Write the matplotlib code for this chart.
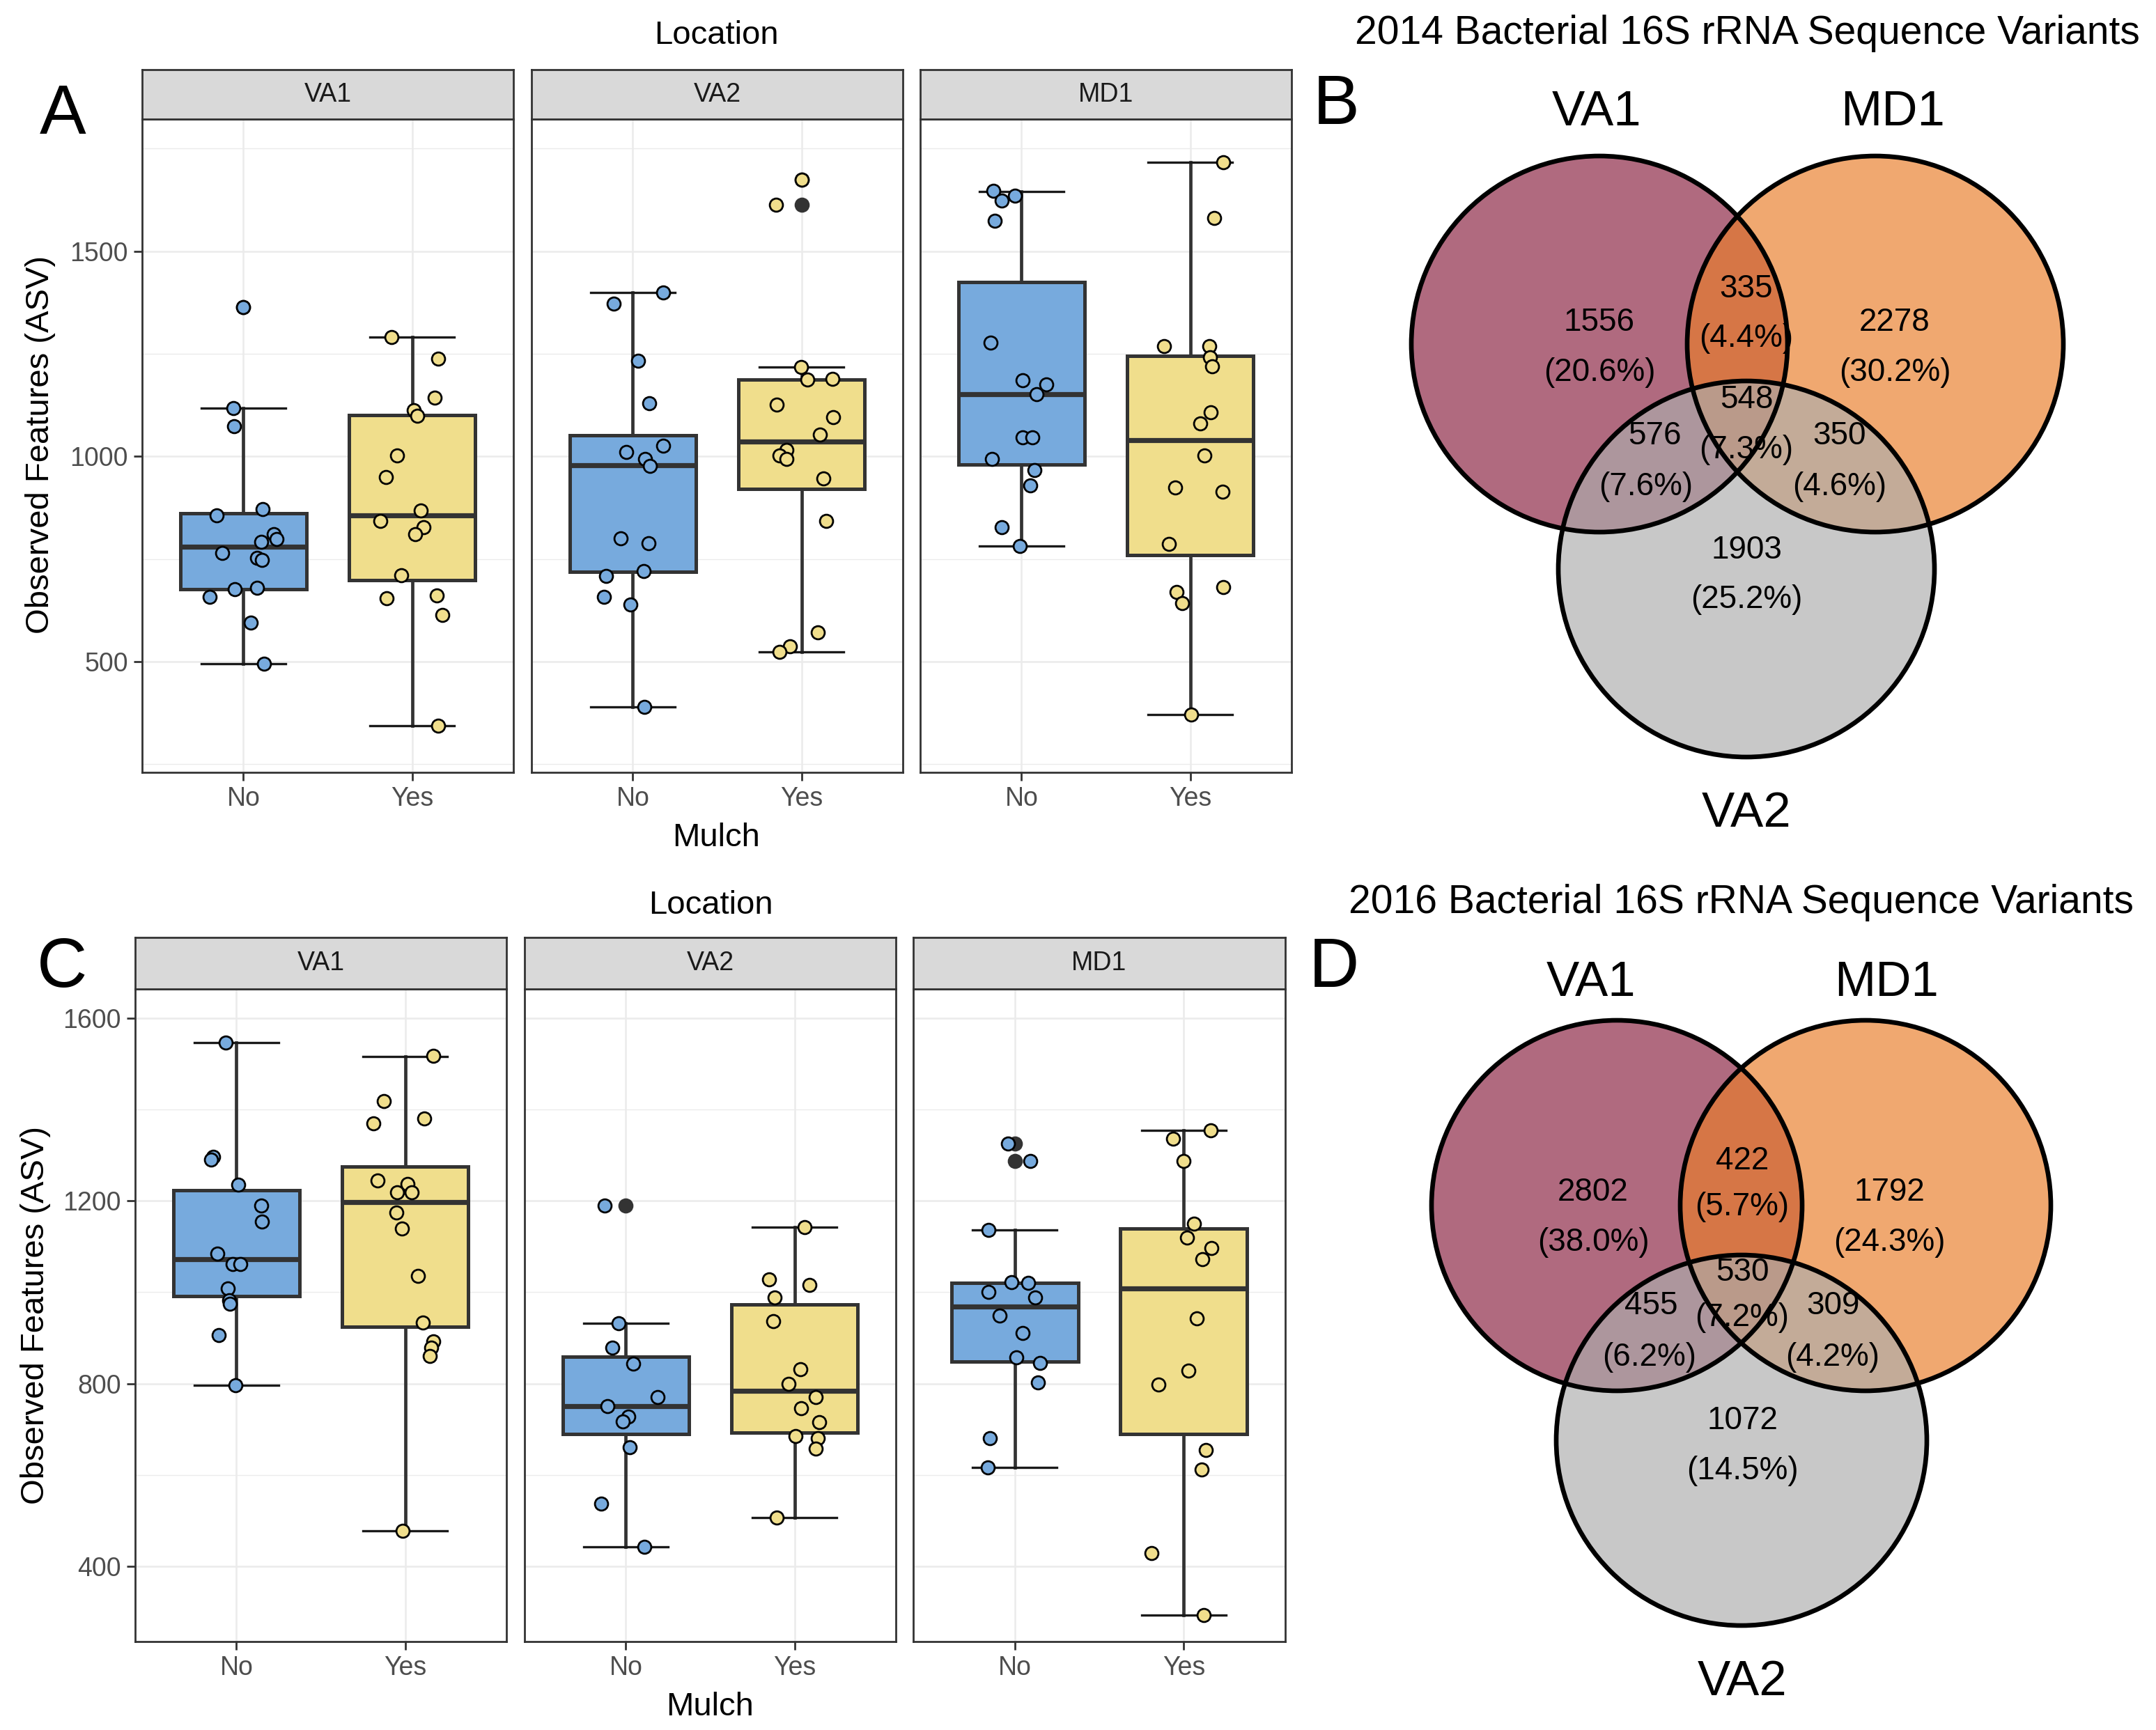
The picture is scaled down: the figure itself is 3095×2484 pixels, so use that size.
import matplotlib
matplotlib.use("Agg")
import matplotlib.pyplot as plt
from matplotlib.patches import Circle

plt.rcParams['font.family'] = ['Liberation Sans', 'DejaVu Sans']

W, H = 3095, 2484
DPI = 200

locations = ["VA1", "VA2", "MD1"]
mulch = ["No", "Yes"]
fill_cols = ["#77AADD", "#F0DE8C"]

# ---- panel A: 2014 observed features, jittered points (dx = jitter offset)
a_va1_no = [1363, 1117, 1074, 857, 871, 810, 798, 792, 765, 752, 748, 676, 679, 658, 595, 494]
a_va1_no_dx = [0.0, -0.06, -0.056, -0.16, 0.116, 0.18, 0.196, 0.104, -0.124, 0.08, 0.11, -0.05, 0.08, -0.2, 0.044, 0.124]
a_va1_yes = [1290, 1238, 1143, 1113, 1099, 1002, 950, 869, 843, 827, 810, 711, 655, 661, 613, 343]
a_va1_yes_dx = [-0.124, 0.156, 0.134, 0.01, 0.03, -0.09, -0.154, 0.05, -0.19, 0.066, 0.02, -0.064, -0.15, 0.144, 0.18, 0.156]
a_va2_no = [1400, 1373, 1233, 1129, 1026, 1011, 993, 976, 801, 789, 720, 708, 658, 639, 389]
a_va2_no_dx = [0.182, -0.114, 0.032, 0.098, 0.18, -0.038, 0.073, 0.103, -0.073, 0.094, 0.066, -0.158, -0.17, -0.015, 0.069]
a_va2_yes = [1675, 1613, 1218, 1187, 1189, 1126, 1095, 1054, 1015, 1002, 994, 946, 843, 571, 538, 524]
a_va2_yes_dx = [0.0, -0.152, -0.003, 0.034, 0.183, -0.147, 0.186, 0.107, -0.091, -0.129, -0.088, 0.128, 0.144, 0.095, -0.069, -0.132]
a_md1_no = [1648, 1635, 1623, 1574, 1278, 1186, 1176, 1151, 1046, 1046, 994, 967, 929, 827, 782]
a_md1_no_dx = [-0.167, -0.038, -0.119, -0.16, -0.183, 0.005, 0.146, 0.091, 0.008, 0.064, -0.175, 0.076, 0.053, -0.119, -0.008]
a_md1_yes = [1717, 1581, 1268, 1268, 1242, 1220, 1107, 1081, 1002, 924, 914, 786, 670, 681, 643, 371]
a_md1_yes_dx = [0.195, 0.142, -0.155, 0.112, 0.119, 0.129, 0.122, 0.061, 0.084, -0.091, 0.19, -0.128, -0.082, 0.195, -0.049, 0.005]

# box stats, order: VA1 No, VA1 Yes, VA2 No, VA2 Yes, MD1 No, MD1 Yes
a_q1 = [676, 699, 718, 920, 981, 760]
a_med = [780, 857, 979, 1036, 1152, 1040]
a_q3 = [861, 1101, 1051, 1188, 1425, 1245]
a_lo = [494, 343, 389, 524, 781, 371]
a_hi = [1117, 1290, 1399, 1218, 1646, 1717]
a_out = [[1363], [], [], [1675, 1613], [], []]

# ---- panel C: 2016
c_va1_no = [1547, 1296, 1290, 1235, 1189, 1155, 1084, 1061, 1061, 1008, 983, 974, 906, 796]
c_va1_no_dx = [-0.064, -0.139, -0.149, 0.01, 0.149, 0.153, -0.114, -0.024, 0.024, -0.05, -0.044, -0.04, -0.104, -0.004]
c_va1_yes = [1517, 1419, 1370, 1381, 1244, 1237, 1219, 1219, 1175, 1139, 1036, 934, 893, 878, 861, 477]
c_va1_yes_dx = [0.165, -0.127, -0.187, 0.112, -0.163, 0.012, -0.048, 0.04, -0.054, -0.018, 0.076, 0.106, 0.165, 0.155, 0.145, -0.014]
c_va2_no = [1190, 932, 879, 844, 770, 751, 728, 717, 661, 537, 442]
c_va2_no_dx = [-0.126, -0.041, -0.078, 0.043, 0.189, -0.11, 0.013, -0.016, 0.022, -0.144, 0.11]
c_va2_yes = [1143, 1028, 1016, 988, 937, 832, 800, 770, 746, 715, 685, 680, 657, 507]
c_va2_yes_dx = [0.06, -0.153, 0.09, -0.119, -0.128, 0.034, -0.035, 0.126, 0.038, 0.148, 0.006, 0.138, 0.126, -0.104]
c_md1_no = [1326, 1287, 1136, 1022, 1021, 1000, 989, 949, 910, 857, 845, 803, 680, 617]
c_md1_no_dx = [-0.04, 0.091, -0.155, -0.021, 0.078, -0.155, 0.123, -0.09, 0.047, 0.009, 0.151, 0.136, -0.146, -0.158]
c_md1_yes = [1354, 1336, 1287, 1150, 1119, 1097, 1073, 942, 829, 798, 654, 611, 429, 293]
c_md1_yes_dx = [0.158, -0.065, -0.002, 0.059, 0.021, 0.163, 0.111, 0.076, 0.026, -0.149, 0.132, 0.105, -0.192, 0.12]

c_q1 = [991, 924, 689, 692, 848, 690]
c_med = [1073, 1198, 751, 784, 969, 1008]
c_q3 = [1223, 1275, 859, 973, 1021, 1139]
c_lo = [796, 477, 442, 507, 617, 293]
c_hi = [1547, 1516, 932, 1143, 1136, 1354]
c_out = [[], [], [1190], [], [1326, 1287], []]

# ---- Venn counts (regions: VA1 only, VA1&MD1, MD1 only, all, VA1&VA2, MD1&VA2, VA2 only)
venn_2014_n = [1556, 335, 2278, 548, 576, 350, 1903]
venn_2014_pct = ["20.6%", "4.4%", "30.2%", "7.3%", "7.6%", "4.6%", "25.2%"]
venn_2016_n = [2802, 422, 1792, 530, 455, 309, 1072]
venn_2016_pct = ["38.0%", "5.7%", "24.3%", "7.2%", "6.2%", "4.2%", "14.5%"]
venn_sets = ["VA1", "MD1", "VA2"]
venn_cols = ["#892141", "#E97D2A", "#ADADAD"]


def rect(l, t, r, b):
    return [l / W, 1 - b / H, (r - l) / W, (b - t) / H]


fig = plt.figure(figsize=(W / DPI, H / DPI), dpi=DPI)


def ftext(x, y, s, **kw):
    fig.text(x / W, 1 - y / H, s, **kw)


def facet_row(groups, q1, med, q3, lo, hi, out, lefts, rights, strip_top, top, bottom,
              ylim, major, minor):
    for i, loc in enumerate(locations):
        ax = fig.add_axes(rect(lefts[i], top, rights[i], bottom))
        stats = []
        for j in range(2):
            k = 2 * i + j
            stats.append(dict(q1=q1[k], med=med[k], q3=q3[k], whislo=lo[k], whishi=hi[k], fliers=out[k]))
        bp = ax.bxp(stats, positions=[1, 2], widths=0.75, capwidths=0.5, patch_artist=True,
                    manage_ticks=False,
                    boxprops=dict(edgecolor="#333333", linewidth=1.8),
                    medianprops=dict(color="#333333", linewidth=2.6),
                    whiskerprops=dict(color="#333333", linewidth=1.7),
                    capprops=dict(color="#1A1A1A", linewidth=1.2),
                    flierprops=dict(marker="o", markerfacecolor="#333333", markeredgecolor="#333333",
                                    markersize=6.8))
        for patch, col in zip(bp["boxes"], fill_cols):
            patch.set_facecolor(col)
        for j in range(2):
            vals, dx = groups[2 * i + j]
            ax.scatter([j + 1 + d for d in dx], vals, s=46, color=fill_cols[j],
                       edgecolor="black", linewidth=1.0, zorder=5)
        ax.set_xlim(0.4, 2.6)
        ax.set_ylim(*ylim)
        ax.set_xticks([1, 2])
        ax.set_xticklabels(mulch)
        ax.set_yticks(major)
        ax.set_yticks(minor, minor=True)
        ax.grid(which="major", color="#EBEBEB", linewidth=0.9)
        ax.grid(which="minor", axis="y", color="#EBEBEB", linewidth=0.5)
        ax.set_axisbelow(True)
        ax.tick_params(which="major", length=4.3, width=1.0, color="#333333", labelsize=13.5,
                       labelcolor="#4D4D4D", pad=3)
        ax.tick_params(which="minor", length=0)
        if i > 0:
            ax.tick_params(axis="y", left=False, labelleft=False)
        for sp in ax.spines.values():
            sp.set_color("#333333")
            sp.set_linewidth(1.0)

        axs = fig.add_axes(rect(lefts[i], strip_top, rights[i], top))
        axs.set_facecolor("#D9D9D9")
        axs.set_xticks([])
        axs.set_yticks([])
        for sp in axs.spines.values():
            sp.set_color("#333333")
            sp.set_linewidth(1.0)
        axs.text(0.5, 0.5, loc, ha="center", va="center", fontsize=13.5, color="#1A1A1A",
                 transform=axs.transAxes)


a_groups = [(a_va1_no, a_va1_no_dx), (a_va1_yes, a_va1_yes_dx), (a_va2_no, a_va2_no_dx),
            (a_va2_yes, a_va2_yes_dx), (a_md1_no, a_md1_no_dx), (a_md1_yes, a_md1_yes_dx)]
c_groups = [(c_va1_no, c_va1_no_dx), (c_va1_yes, c_va1_yes_dx), (c_va2_no, c_va2_no_dx),
            (c_va2_yes, c_va2_yes_dx), (c_md1_no, c_md1_no_dx), (c_md1_yes, c_md1_yes_dx)]

facet_row(a_groups, a_q1, a_med, a_q3, a_lo, a_hi, a_out,
          [204, 763, 1321], [737, 1296, 1854], 100, 171, 1109,
          (230, 1822), [500, 1000, 1500], [250, 750, 1250, 1750])
facet_row(c_groups, c_q1, c_med, c_q3, c_lo, c_hi, c_out,
          [194, 753, 1311], [727, 1286, 1845], 1346, 1420, 2357,
          (235, 1664), [400, 800, 1200, 1600], [600, 1000, 1400])

# axis titles and panel letters
ftext(1028, 63, "Location", ha="center", va="baseline", fontsize=17)
ftext(1028, 1215, "Mulch", ha="center", va="baseline", fontsize=17)
ftext(58, 639, "Observed Features (ASV)", ha="center", va="center", rotation=90, fontsize=17)
ftext(1020, 1312, "Location", ha="center", va="baseline", fontsize=17)
ftext(1019, 2463, "Mulch", ha="center", va="baseline", fontsize=17)
ftext(51, 1889, "Observed Features (ASV)", ha="center", va="center", rotation=90, fontsize=17)

ftext(90, 192, "A", ha="center", va="baseline", fontsize=36)
ftext(1918, 178, "B", ha="center", va="baseline", fontsize=36)
ftext(89, 1417, "C", ha="center", va="baseline", fontsize=36)
ftext(1915, 1417, "D", ha="center", va="baseline", fontsize=36)

# ---- Venn diagrams
axv = fig.add_axes(rect(1880, 0, W, H))
axv.set_xlim(1880, W)
axv.set_ylim(H, 0)
axv.axis("off")


def venn(title, title_xy, centers, r, label_xy, counts, pcts, n_xy, p_xy):
    for (cx, cy), col in zip(centers, venn_cols):
        axv.add_patch(Circle((cx, cy), r, facecolor=col, edgecolor="none", alpha=0.67, zorder=1))
    for (cx, cy) in centers:
        axv.add_patch(Circle((cx, cy), r, fill=False, edgecolor="black", linewidth=2.4, zorder=3))
    for n, p, (nx, ny), (px, py) in zip(counts, pcts, n_xy, p_xy):
        axv.text(nx, ny + 16, f"{n}", ha="center", va="baseline", fontsize=16.5, zorder=2)
        axv.text(px, py + 16, f"({p})", ha="center", va="baseline", fontsize=16.5, zorder=2)
    for s, (lx, ly) in zip(venn_sets, label_xy):
        axv.text(lx, ly, s, ha="center", va="baseline", fontsize=25.5)
    axv.text(title_xy[0], title_xy[1], title, ha="center", va="baseline", fontsize=20.5)


venn("2014 Bacterial 16S rRNA Sequence Variants", (2508, 63),
     [(2296, 494), (2692, 494), (2507, 817)], 270,
     [(2292, 180), (2717, 180), (2507, 1187)],
     venn_2014_n, venn_2014_pct,
     [(2296, 459), (2507, 411), (2720, 459), (2507, 570), (2375, 622), (2641, 622), (2507, 786)],
     [(2296, 531), (2507, 482), (2720, 531), (2507, 642), (2363, 695), (2641, 695), (2507, 857)])

venn("2016 Bacterial 16S rRNA Sequence Variants", (2499, 1311),
     [(2321, 1731), (2678, 1731), (2500, 2068)], 266,
     [(2284, 1430), (2708, 1430), (2501, 2434)],
     venn_2016_n, venn_2016_pct,
     [(2287, 1708), (2501, 1663), (2712, 1708), (2501, 1823), (2370, 1871), (2631, 1871), (2501, 2036)],
     [(2287, 1780), (2501, 1729), (2712, 1780), (2501, 1888), (2368, 1945), (2631, 1945), (2501, 2108)])

fig.savefig("out.png", dpi=DPI)
